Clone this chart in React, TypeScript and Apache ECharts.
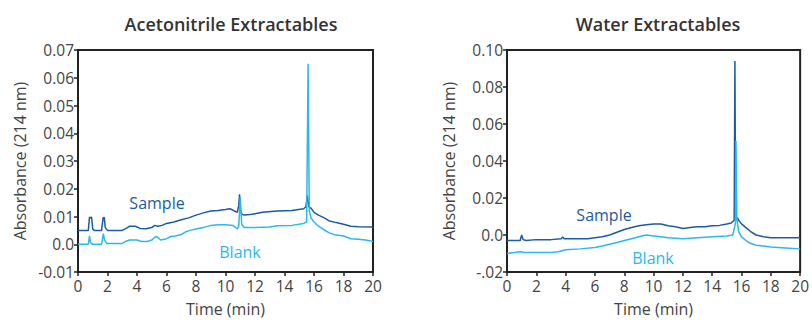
import React, { useEffect, useRef } from "react";
import * as echarts from "echarts";

// ---- Data ----
const acnSampleT = [0, 0.7, 0.78, 0.85, 0.92, 1.0, 1.1, 1.6, 1.7, 1.78, 1.85, 2.0, 3.0, 3.3, 3.5, 3.9, 4.2, 4.6, 5.0, 5.2, 5.4, 5.7, 6.0, 6.5, 7.0, 7.5, 8.0, 8.5, 9.0, 9.5, 10.0, 10.3, 10.6, 10.8, 10.9, 10.95, 11.0, 11.1, 11.3, 11.8, 12.0, 12.5, 13.5, 14.5, 15.3, 15.45, 15.55, 15.65, 15.8, 16.0, 16.3, 16.7, 17.0, 17.5, 18.0, 18.5, 19.0, 20.0];
const acnSampleY = [0.005, 0.005, 0.0098, 0.0095, 0.0098, 0.0055, 0.005, 0.005, 0.0095, 0.0097, 0.006, 0.005, 0.005, 0.0058, 0.0065, 0.0065, 0.0057, 0.0056, 0.006, 0.0068, 0.0065, 0.0068, 0.0075, 0.008, 0.0088, 0.0095, 0.0105, 0.0113, 0.012, 0.0122, 0.0125, 0.0128, 0.012, 0.0115, 0.014, 0.018, 0.013, 0.0108, 0.0105, 0.0108, 0.011, 0.0115, 0.012, 0.0122, 0.0128, 0.0135, 0.0175, 0.0135, 0.013, 0.0115, 0.0105, 0.0095, 0.0085, 0.0078, 0.0072, 0.0065, 0.0063, 0.0062];

const acnBlankT = [0, 0.7, 0.78, 0.85, 1.0, 1.6, 1.72, 1.8, 1.95, 3.0, 3.3, 3.5, 4.0, 4.3, 4.7, 5.0, 5.2, 5.35, 5.6, 6.0, 6.3, 6.6, 7.0, 7.3, 7.6, 8.0, 8.5, 9.0, 9.5, 10.0, 10.5, 10.8, 10.9, 11.0, 11.1, 11.3, 12.0, 13.0, 13.5, 14.5, 15.3, 15.5, 15.6, 15.68, 15.8, 16.0, 16.3, 16.6, 17.0, 17.5, 18.0, 18.5, 19.0, 19.5, 20.0];
const acnBlankY = [0, 0, 0.003, 0.0005, 0, 0, 0.0038, 0.0015, 0.0003, 0.0003, 0.0012, 0.0015, 0.0015, 0.001, 0.001, 0.0015, 0.0025, 0.0028, 0.0015, 0.002, 0.0028, 0.003, 0.0035, 0.0045, 0.005, 0.0055, 0.006, 0.0068, 0.007, 0.007, 0.0068, 0.0055, 0.0065, 0.017, 0.007, 0.006, 0.006, 0.0062, 0.0067, 0.0068, 0.0075, 0.008, 0.065, 0.012, 0.0095, 0.008, 0.0065, 0.0055, 0.0042, 0.0033, 0.003, 0.002, 0.0018, 0.0015, 0.001];

const waterSampleT = [0, 0.9, 1.0, 1.1, 1.3, 2.0, 3.0, 3.7, 3.8, 3.9, 4.5, 5.5, 6.0, 6.5, 7.0, 7.5, 8.0, 8.5, 9.0, 9.5, 10.0, 10.5, 11.0, 11.5, 12.0, 12.5, 13.0, 13.5, 14.0, 14.5, 15.0, 15.3, 15.5, 15.55, 15.6, 15.65, 15.72, 15.8, 16.0, 16.3, 16.6, 17.0, 17.5, 18.0, 19.0, 20.0];
const waterSampleY = [-0.003, -0.003, 0.0, -0.0025, -0.003, -0.0025, -0.0025, -0.002, -0.001, -0.002, -0.002, -0.002, -0.0015, -0.001, 0.0, 0.0015, 0.003, 0.004, 0.005, 0.0055, 0.006, 0.006, 0.005, 0.0045, 0.0035, 0.004, 0.0045, 0.0045, 0.005, 0.0052, 0.006, 0.0065, 0.008, 0.094, 0.009, 0.008, 0.0095, 0.008, 0.006, 0.004, 0.002, 0.0, -0.001, -0.0015, -0.0015, -0.0015];

const waterBlankT = [0, 0.5, 0.9, 1.2, 2.0, 3.0, 3.5, 4.0, 5.0, 6.0, 6.5, 7.0, 7.5, 8.0, 8.5, 9.0, 9.5, 10.0, 10.5, 11.0, 12.0, 13.0, 14.0, 15.0, 15.4, 15.58, 15.62, 15.68, 15.8, 16.0, 16.3, 16.6, 17.0, 17.5, 18.0, 19.0, 20.0];
const waterBlankY = [-0.01, -0.0095, -0.009, -0.0095, -0.0095, -0.0095, -0.009, -0.008, -0.0075, -0.0068, -0.006, -0.005, -0.004, -0.003, -0.002, -0.001, 0.0, -0.0005, -0.001, -0.0015, -0.002, -0.0015, -0.001, -0.0005, 0.0, 0.006, 0.051, 0.009, 0.002, -0.001, -0.003, -0.0045, -0.0055, -0.006, -0.0065, -0.007, -0.0075];

const acnYTickValues = [-0.01, 0, 0.01, 0.02, 0.03, 0.04, 0.05, 0.06, 0.07];
const acnYTickLabels = ["-0.01", "0.0", "0.01", "0.02", "0.03", "0.04", "0.05", "0.06", "0.07"];
const waterYTickValues = [-0.02, 0, 0.02, 0.04, 0.06, 0.08, 0.1];
const waterYTickLabels = ["-.02", "0.0", "0.02", "0.04", "0.06", "0.08", "0.10"];

const titles = ["Acetonitrile Extractables", "Water Extractables"];
const xName = "Time (min)";
const yName = "Absorbance (214 nm)";
const sampleName = "Sample";
const blankName = "Blank";

const SAMPLE_COLOR = "#1a5aa6";
const BLANK_COLOR = "#2bb8ec";
const FONT = "Open Sans";

const zip = (t: number[], y: number[]) => t.map((v, i) => [v, y[i]]);

const fmt = (vals: number[], labels: string[]) => (v: number) => {
  const i = vals.findIndex((x) => Math.abs(x - v) < 1e-9);
  return i >= 0 ? labels[i] : "";
};

export default function App() {
  const ref = useRef<HTMLDivElement>(null);
  useEffect(() => {
    if (!ref.current) return;
    const chart = echarts.init(ref.current, undefined, { renderer: "svg" });
    const axisLabel = { color: "#444", fontSize: 15.5, fontFamily: FONT };
    const nameStyle = { color: "#444", fontSize: 16, fontFamily: FONT };
    const mkX = (gi: number) => ({
      type: "value",
      gridIndex: gi,
      min: 0,
      max: 20,
      interval: 2,
      name: xName,
      nameLocation: "middle",
      nameGap: 29,
      nameTextStyle: nameStyle,
      axisLine: { show: true, onZero: false, lineStyle: { color: "#222", width: 2 } },
      axisTick: { show: true, length: 4, lineStyle: { color: "#222", width: 1.5 } },
      axisLabel: { ...axisLabel, margin: 6 },
      splitLine: { show: false },
    });
    const mkY = (gi: number, min: number, max: number, interval: number, vals: number[], labels: string[]) => ({
      type: "value",
      gridIndex: gi,
      min,
      max,
      interval,
      name: yName,
      nameLocation: "middle",
      nameGap: 50,
      nameTextStyle: nameStyle,
      axisLine: { show: true, lineStyle: { color: "#222", width: 2 } },
      axisTick: { show: true, length: 4, lineStyle: { color: "#222", width: 1.5 } },
      axisLabel: { ...axisLabel, margin: 4, formatter: fmt(vals, labels) },
      splitLine: { show: false },
    });
    const line = (name: string, xi: number, data: number[][], color: string) => ({
      type: "line",
      name,
      xAxisIndex: xi,
      yAxisIndex: xi,
      data,
      showSymbol: false,
      symbol: "none",
      lineStyle: { color, width: 1.5 },
      itemStyle: { color },
      silent: true,
    });
    const txt = (x: number, y: number, text: string, color: string) => ({
      type: "text",
      x,
      y,
      style: { text, fill: color, fontSize: 16, fontFamily: FONT, align: "center", verticalAlign: "middle" },
    });
    const titleStyle = { fontSize: 18, fontWeight: 600, color: "#333", fontFamily: FONT };
    chart.setOption({
      animation: false,
      backgroundColor: "#fff",
      title: [
        { text: titles[0], left: 226, top: 10, textAlign: "center", textStyle: titleStyle },
        { text: titles[1], left: 653, top: 10, textAlign: "center", textStyle: titleStyle },
      ],
      grid: [
        { left: 78, top: 50, width: 295, height: 226, show: true, borderColor: "#222", borderWidth: 2, backgroundColor: "transparent" },
        { left: 507, top: 50, width: 295, height: 226, show: true, borderColor: "#222", borderWidth: 2, backgroundColor: "transparent" },
      ],
      xAxis: [mkX(0), mkX(1)],
      yAxis: [
        mkY(0, -0.01, 0.07, 0.01, acnYTickValues, acnYTickLabels),
        mkY(1, -0.02, 0.1, 0.02, waterYTickValues, waterYTickLabels),
      ],
      series: [
        line(sampleName, 0, zip(acnSampleT, acnSampleY), SAMPLE_COLOR),
        line(blankName, 0, zip(acnBlankT, acnBlankY), BLANK_COLOR),
        line(sampleName, 1, zip(waterSampleT, waterSampleY), SAMPLE_COLOR),
        line(blankName, 1, zip(waterBlankT, waterBlankY), BLANK_COLOR),
      ],
      graphic: [
        txt(157, 203, sampleName, SAMPLE_COLOR),
        txt(240, 252, blankName, BLANK_COLOR),
        txt(604, 215, sampleName, SAMPLE_COLOR),
        txt(653, 258, blankName, BLANK_COLOR),
      ],
    });
    return () => chart.dispose();
  }, []);
  return (
    <div
      ref={ref}
      style={{ position: "fixed", left: 0, top: 0, width: 812, height: 322 }}
    />
  );
}
